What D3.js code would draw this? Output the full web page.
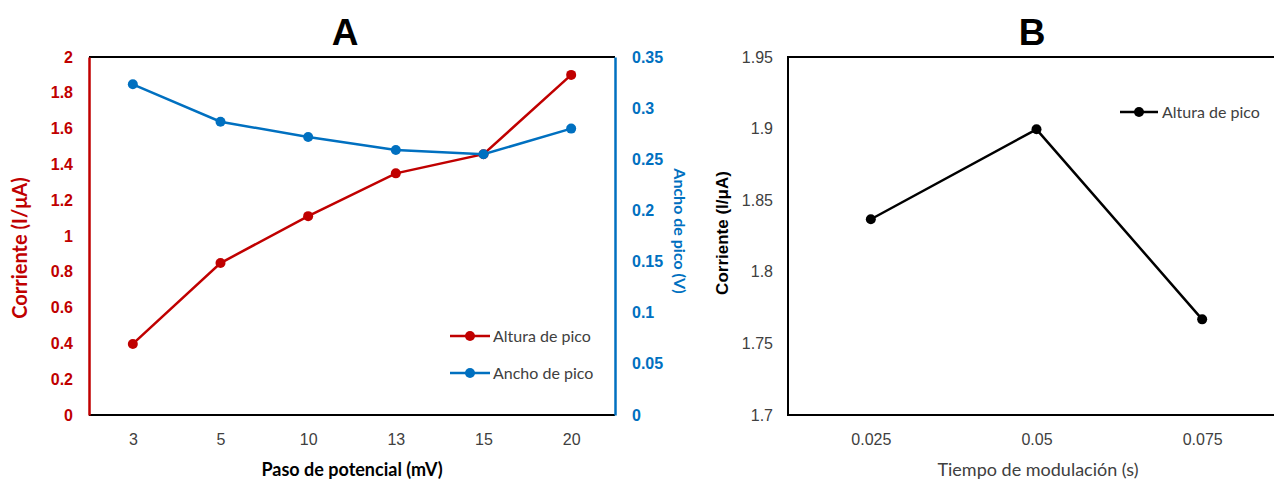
<!DOCTYPE html>
<meta charset='utf-8'>
<style>
	body { margin: 0; background: #fff; }
	svg { display: block; font-family: Lato, 'Open Sans', sans-serif; }
</style>
<body>
<div id='container'></div>
<script src='https://d3js.org/d3.v7.min.js'></script>
<script>
	// Panel A data
	const pasos = [ '3', '5', '10', '13', '15', '20' ];
	const alturaA = [ 0.397, 0.849, 1.111, 1.350, 1.457, 1.900 ];
	const anchoA = [ 0.3233, 0.2867, 0.2718, 0.2590, 0.2549, 0.2800 ];
	const ticksLeftA = [ 0, 0.2, 0.4, 0.6, 0.8, 1, 1.2, 1.4, 1.6, 1.8, 2 ];
	const ticksRightA = [ 0, 0.05, 0.1, 0.15, 0.2, 0.25, 0.3, 0.35 ];

	// Panel B data
	const tiempos = [ '0.025', '0.05', '0.075' ];
	const alturaB = [ 1.8367, 1.8995, 1.7668 ];
	const ticksB = [ 1.7, 1.75, 1.8, 1.85, 1.9, 1.95 ];

	const red = '#C00000', blue = '#0070C0', grey = '#404040';
	const W = 1274, H = 481;
	const plotTop = 57, plotBottom = 415;

	const svg = d3.select( '#container' ).append( 'svg' )
		.attr( 'width', W ).attr( 'height', H );

	// ---------- Panel A ----------
	const axL = 89, axR = 615;
	const xA = d3.scalePoint().domain( pasos ).range( [axL, axR] ).padding( 0.5 );
	const yL = d3.scaleLinear().domain( [0, 2] ).range( [plotBottom, plotTop] );
	const yR = d3.scaleLinear().domain( [0, 0.35] ).range( [plotBottom, plotTop] );

	const gA = svg.append( 'g' );

	// frame
	gA.append( 'line' ).attr( 'x1', axL ).attr( 'x2', axR ).attr( 'y1', plotTop ).attr( 'y2', plotTop )
		.attr( 'stroke', '#000' ).attr( 'stroke-width', 2 );
	gA.append( 'line' ).attr( 'x1', axL ).attr( 'x2', axR ).attr( 'y1', plotBottom ).attr( 'y2', plotBottom )
		.attr( 'stroke', '#000' ).attr( 'stroke-width', 2 );

	const leftAxis = gA.append( 'g' )
		.attr( 'transform', `translate(${axL},0)` )
		.call( d3.axisLeft( yL ).tickValues( ticksLeftA ).tickSize( 0 ).tickPadding( 16 ).tickFormat( d3.format( '' ) ) );
	leftAxis.select( '.domain' ).attr( 'stroke', red ).attr( 'stroke-width', 2.5 );
	leftAxis.selectAll( 'text' ).attr( 'fill', red ).style( 'font-size', '16px' ).style( 'font-weight', 'bold' );

	const rightAxis = gA.append( 'g' )
		.attr( 'transform', `translate(${axR},0)` )
		.call( d3.axisRight( yR ).tickValues( ticksRightA ).tickSize( 0 ).tickPadding( 17 ).tickFormat( d3.format( '' ) ) );
	rightAxis.select( '.domain' ).attr( 'stroke', blue ).attr( 'stroke-width', 2.5 );
	rightAxis.selectAll( 'text' ).attr( 'fill', blue ).style( 'font-size', '16px' ).style( 'font-weight', 'bold' );

	const xAxisA = gA.append( 'g' )
		.attr( 'transform', `translate(0,${plotBottom})` )
		.call( d3.axisBottom( xA ).tickSize( 0 ).tickPadding( 19 ) );
	xAxisA.select( '.domain' ).remove();
	xAxisA.selectAll( 'text' ).attr( 'fill', grey ).style( 'font-size', '16px' );

	const lineL = d3.line().x( ( d, i ) => xA( pasos[i] ) ).y( d => yL( d ) );
	const lineR = d3.line().x( ( d, i ) => xA( pasos[i] ) ).y( d => yR( d ) );

	gA.append( 'path' ).attr( 'd', lineL( alturaA ) )
		.attr( 'fill', 'none' ).attr( 'stroke', red ).attr( 'stroke-width', 2.5 );
	gA.selectAll( '.ptL' ).data( alturaA ).enter().append( 'circle' )
		.attr( 'class', 'ptL' )
		.attr( 'cx', ( d, i ) => xA( pasos[i] ) ).attr( 'cy', d => yL( d ) )
		.attr( 'r', 5 ).attr( 'fill', red );

	gA.append( 'path' ).attr( 'd', lineR( anchoA ) )
		.attr( 'fill', 'none' ).attr( 'stroke', blue ).attr( 'stroke-width', 2.5 );
	gA.selectAll( '.ptR' ).data( anchoA ).enter().append( 'circle' )
		.attr( 'class', 'ptR' )
		.attr( 'cx', ( d, i ) => xA( pasos[i] ) ).attr( 'cy', d => yR( d ) )
		.attr( 'r', 5 ).attr( 'fill', blue );

	// titles
	gA.append( 'text' ).attr( 'x', 345 ).attr( 'y', 45 )
		.attr( 'text-anchor', 'middle' )
		.style( 'font-family', 'Liberation Sans, Arial, sans-serif' )
		.style( 'font-size', '37px' ).style( 'font-weight', 'bold' ).text( 'A' );
	gA.append( 'text' )
		.attr( 'transform', `translate(27,248) rotate(-90)` )
		.attr( 'text-anchor', 'middle' ).attr( 'fill', red )
		.style( 'font-size', '20px' ).style( 'font-weight', 'bold' )
		.text( 'Corriente (I/μA)' );
	gA.append( 'text' )
		.attr( 'transform', `translate(674,231) rotate(90)` )
		.attr( 'text-anchor', 'middle' ).attr( 'fill', blue )
		.style( 'font-size', '16px' ).style( 'font-weight', 'bold' )
		.text( 'Ancho de pico (V)' );
	gA.append( 'text' ).attr( 'x', 352 ).attr( 'y', 476 )
		.attr( 'text-anchor', 'middle' ).attr( 'fill', '#000' )
		.style( 'font-size', '18px' ).style( 'font-weight', 'bold' )
		.text( 'Paso de potencial (mV)' );

	// legend A
	const legA = [ { name: 'Altura de pico', color: red, y: 336 }, { name: 'Ancho de pico', color: blue, y: 373 } ];
	const lgA = gA.selectAll( '.legA' ).data( legA ).enter().append( 'g' )
		.attr( 'transform', d => `translate(450,${d.y})` );
	lgA.append( 'line' ).attr( 'x1', 0 ).attr( 'x2', 40 )
		.attr( 'stroke', d => d.color ).attr( 'stroke-width', 2.5 );
	lgA.append( 'circle' ).attr( 'cx', 20 ).attr( 'r', 5 ).attr( 'fill', d => d.color );
	lgA.append( 'text' ).attr( 'x', 43 ).attr( 'dy', '0.35em' )
		.attr( 'fill', grey ).style( 'font-size', '16px' ).text( d => d.name );

	// ---------- Panel B ----------
	const bL = 788, bR = 1285;
	const xB = d3.scalePoint().domain( tiempos ).range( [bL, bR] ).padding( 0.5 );
	const yB = d3.scaleLinear().domain( [1.7, 1.95] ).range( [plotBottom, plotTop] );

	const gB = svg.append( 'g' );
	gB.append( 'rect' ).attr( 'x', bL ).attr( 'y', plotTop )
		.attr( 'width', bR - bL ).attr( 'height', plotBottom - plotTop )
		.attr( 'fill', 'none' ).attr( 'stroke', '#000' ).attr( 'stroke-width', 2 );

	const yAxisB = gB.append( 'g' )
		.attr( 'transform', `translate(${bL},0)` )
		.call( d3.axisLeft( yB ).tickValues( ticksB ).tickSize( 0 ).tickPadding( 15 ).tickFormat( d3.format( '' ) ) );
	yAxisB.select( '.domain' ).remove();
	yAxisB.selectAll( 'text' ).attr( 'fill', grey ).style( 'font-size', '16px' );

	const xAxisB = gB.append( 'g' )
		.attr( 'transform', `translate(0,${plotBottom})` )
		.call( d3.axisBottom( xB ).tickSize( 0 ).tickPadding( 19 ) );
	xAxisB.select( '.domain' ).remove();
	xAxisB.selectAll( 'text' ).attr( 'fill', grey ).style( 'font-size', '16px' );

	const lineB = d3.line().x( ( d, i ) => xB( tiempos[i] ) ).y( d => yB( d ) );
	gB.append( 'path' ).attr( 'd', lineB( alturaB ) )
		.attr( 'fill', 'none' ).attr( 'stroke', '#000' ).attr( 'stroke-width', 2.5 );
	gB.selectAll( '.ptB' ).data( alturaB ).enter().append( 'circle' )
		.attr( 'class', 'ptB' )
		.attr( 'cx', ( d, i ) => xB( tiempos[i] ) ).attr( 'cy', d => yB( d ) )
		.attr( 'r', 5 ).attr( 'fill', '#000' );

	gB.append( 'text' ).attr( 'x', 1032 ).attr( 'y', 45 )
		.attr( 'text-anchor', 'middle' )
		.style( 'font-family', 'Liberation Sans, Arial, sans-serif' )
		.style( 'font-size', '37px' ).style( 'font-weight', 'bold' ).text( 'B' );
	gB.append( 'text' )
		.attr( 'transform', `translate(728,233) rotate(-90)` )
		.attr( 'text-anchor', 'middle' ).attr( 'fill', '#000' )
		.style( 'font-family', 'Liberation Sans, Arial, sans-serif' )
		.style( 'font-size', '17px' ).style( 'font-weight', 'bold' )
		.text( 'Corriente (I/μA)' );
	gB.append( 'text' ).attr( 'x', 1038 ).attr( 'y', 476 )
		.attr( 'text-anchor', 'middle' ).attr( 'fill', grey )
		.style( 'font-size', '18px' )
		.text( 'Tiempo de modulación (s)' );

	const lgB = gB.append( 'g' ).attr( 'transform', 'translate(1120,112)' );
	lgB.append( 'line' ).attr( 'x1', 0 ).attr( 'x2', 38 )
		.attr( 'stroke', '#000' ).attr( 'stroke-width', 2.5 );
	lgB.append( 'circle' ).attr( 'cx', 19 ).attr( 'r', 5 ).attr( 'fill', '#000' );
	lgB.append( 'text' ).attr( 'x', 42 ).attr( 'dy', '0.35em' )
		.attr( 'fill', grey ).style( 'font-size', '16px' ).text( 'Altura de pico' );
</script>
</body>
